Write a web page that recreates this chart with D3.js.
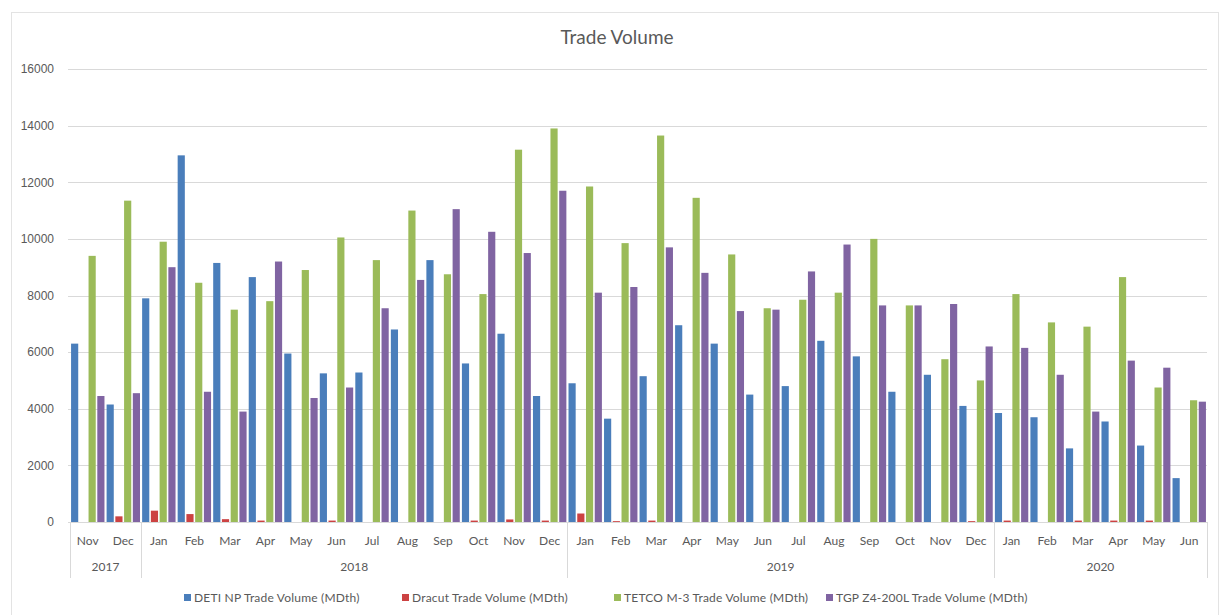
<!DOCTYPE html>
<html>
  <head>
    <meta charset="utf-8">
    <title>Trade Volume</title>
    <script src="https://d3js.org/d3.v7.min.js"></script>
    <style>
      body { margin: 0; background: #fff; }
      svg { display: block; font-family: Lato, "Open Sans", sans-serif; }
      .tick text, .month, .year { fill: #595959; font-size: 12px; }
      .legendText { fill: #595959; font-size: 12px; letter-spacing: 0.2px; }
      .title { fill: #595959; font-size: 19px; }
    </style>
  </head>
  <body>
    <svg id="chart" width="1221" height="615"></svg>
    <script>
      // data
      const months = ["Nov", "Dec",
        "Jan", "Feb", "Mar", "Apr", "May", "Jun", "Jul", "Aug", "Sep", "Oct", "Nov", "Dec",
        "Jan", "Feb", "Mar", "Apr", "May", "Jun", "Jul", "Aug", "Sep", "Oct", "Nov", "Dec",
        "Jan", "Feb", "Mar", "Apr", "May", "Jun"];
      const years = [
        { year: "2017", count: 2 },
        { year: "2018", count: 12 },
        { year: "2019", count: 12 },
        { year: "2020", count: 6 }
      ];
      const seriesNames = [
        "DETI NP Trade Volume (MDth)",
        "Dracut Trade Volume (MDth)",
        "TETCO M-3 Trade Volume (MDth)",
        "TGP Z4-200L Trade Volume (MDth)"
      ];
      const deti = [6300, 4150,
        7900, 12950, 9150, 8650, 5950, 5250, 5280, 6800, 9250, 5600, 6650, 4450,
        4900, 3650, 5150, 6950, 6300, 4500, 4800, 6400, 5850, 4600, 5200, 4100,
        3850, 3700, 2600, 3550, 2700, 1550];
      const dracut = [0, 200,
        400, 280, 100, 50, 0, 50, 0, 0, 0, 50, 90, 50,
        300, 30, 50, 0, 0, 0, 0, 0, 0, 0, 0, 30,
        50, 0, 50, 50, 50, 0];
      const tetco = [9400, 11350,
        9900, 8450, 7500, 7800, 8900, 10050, 9250, 11000, 8750, 8050, 13150, 13900,
        11850, 9850, 13650, 11450, 9450, 7550, 7850, 8100, 10000, 7650, 5750, 5000,
        8050, 7050, 6900, 8650, 4750, 4300];
      const tgp = [4450, 4550,
        9000, 4600, 3900, 9200, 4380, 4750, 7550, 8550, 11050, 10250, 9500, 11700,
        8100, 8300, 9700, 8800, 7450, 7500, 8850, 9800, 7650, 7650, 7700, 6200,
        6150, 5200, 3900, 5700, 5450, 4250];
      const yTicks = [0, 2000, 4000, 6000, 8000, 10000, 12000, 14000, 16000];
      const colours = ["#4a7ebb", "#cc4242", "#9bbb59", "#8064a2"];

      const seriesValues = [deti, dracut, tetco, tgp];
      const table = months.map(function(m, i) {
        return { key: i, month: m, values: seriesValues.map(function(s) { return s[i]; }) };
      });

      // layout
      const margin = { top: 69, right: 14, bottom: 93, left: 70 };
      const width = 1221, height = 615;
      const chart = d3.select("#chart");

      // chart border
      chart.append("rect")
        .attr("x", 11.5).attr("y", 12.5)
        .attr("width", 1207).attr("height", 612)
        .attr("fill", "none")
        .attr("stroke", "#e3e3e3");

      chart.append("text")
        .attr("class", "title")
        .attr("x", 617).attr("y", 44)
        .attr("text-anchor", "middle")
        .text("Trade Volume");

      const x0 = d3.scaleBand()
        .domain(table.map(function(d) { return d.key; }))
        .range([margin.left, width - margin.right])
        .paddingInner(0.06)
        .paddingOuter(0.03);
      const x1 = d3.scaleBand()
        .domain(d3.range(seriesNames.length))
        .range([0, x0.bandwidth()])
        .paddingInner(0.18);
      const y = d3.scaleLinear()
        .domain([0, 16000])
        .range([height - margin.bottom, margin.top]);

      // y axis with gridlines
      const yAxis = d3.axisLeft(y)
        .tickValues(yTicks)
        .tickFormat(d3.format("d"))
        .tickSize(0)
        .tickPadding(14);
      const yAxisGroup = chart.append("g")
        .attr("transform", "translate(" + (margin.left - 2) + ",0)")
        .call(yAxis);
      yAxisGroup.select(".domain").remove();
      yAxisGroup.selectAll(".tick text").attr("font-family", null).attr("font-size", null);
      chart.append("g")
        .selectAll("line")
        .data(yTicks)
        .join("line")
          .attr("x1", margin.left - 2)
          .attr("x2", width - margin.right)
          .attr("y1", function(d) { return Math.round(y(d)) + 0.5; })
          .attr("y2", function(d) { return Math.round(y(d)) + 0.5; })
          .attr("stroke", "#d9d9d9");

      // bars
      const groups = chart.append("g")
        .selectAll("g")
        .data(table)
        .join("g")
          .attr("transform", function(d) { return "translate(" + x0(d.key) + ",0)"; });
      groups.selectAll("rect")
        .data(function(d) { return d.values.map(function(v, i) { return { series: i, value: v }; }); })
        .join("rect")
          .attr("x", function(d) { return x1(d.series); })
          .attr("width", x1.bandwidth())
          .attr("y", function(d) { return y(d.value); })
          .attr("height", function(d) { return y(0) - y(d.value); })
          .attr("fill", function(d) { return colours[d.series]; });

      // multi-level category axis
      const axisTop = height - margin.bottom;
      chart.append("g")
        .selectAll("text")
        .data(table)
        .join("text")
          .attr("class", "month")
          .attr("x", function(d) { return x0(d.key) + x0.bandwidth() / 2; })
          .attr("y", axisTop + 23)
          .attr("text-anchor", "middle")
          .text(function(d) { return d.month; });

      let start = 0;
      const yearSpans = years.map(function(yr) {
        const span = { year: yr.year, from: start, to: start + yr.count };
        start += yr.count;
        return span;
      });
      const edge = function(i) { return margin.left + i * (width - margin.right - margin.left) / months.length; };
      chart.append("g")
        .selectAll("text")
        .data(yearSpans)
        .join("text")
          .attr("class", "year")
          .attr("x", function(d) { return (edge(d.from) + edge(d.to)) / 2; })
          .attr("y", axisTop + 49)
          .attr("text-anchor", "middle")
          .text(function(d) { return d.year; });
      const boundaries = [0].concat(yearSpans.map(function(d) { return d.to; }));
      chart.append("g")
        .selectAll("line")
        .data(boundaries)
        .join("line")
          .attr("x1", function(d) { return Math.round(edge(d)) + 0.5; })
          .attr("x2", function(d) { return Math.round(edge(d)) + 0.5; })
          .attr("y1", axisTop)
          .attr("y2", axisTop + 56)
          .attr("stroke", "#d9d9d9");

      // legend
      const legendX = [184, 402, 614, 826];
      const legend = chart.append("g")
        .selectAll("g")
        .data(seriesNames)
        .join("g")
          .attr("transform", function(d, i) { return "translate(" + legendX[i] + ",598)"; });
      legend.append("rect")
        .attr("x", 0).attr("y", -4)
        .attr("width", 7).attr("height", 7)
        .attr("fill", function(d, i) { return colours[i]; });
      legend.append("text")
        .attr("class", "legendText")
        .attr("x", 10)
        .attr("y", 4)
        .text(function(d) { return d; });
    </script>
  </body>
</html>
